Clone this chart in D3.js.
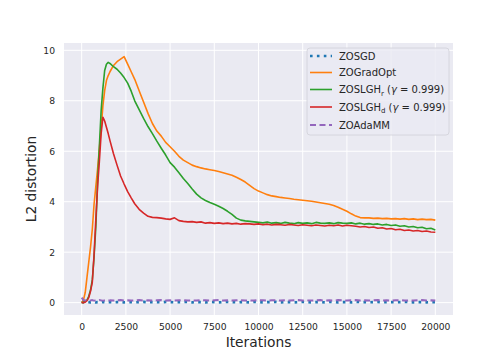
<!DOCTYPE html>
<html>
<head>
<meta charset="utf-8">
<script src="https://cdn.jsdelivr.net/npm/d3@7"></script>
<style>
  body { margin: 0; background: #fff; }
  text { font-family: "DejaVu Sans", sans-serif; fill: #262626; }
</style>
</head>
<body>
<div id="chart"></div>
<script>
// ------------ DATA ------------
var iterations = [0,100,200,300,400,500,600,700,800,900,1000,1100,1200,1300,1400,1500,1600,1800,2000,2200,2400,2600,2800,
  3000,3250,3500,3750,4000,4250,4500,4750,5000,5250,5500,5750,6000,6250,6500,6750,7000,7250,7500,7750,8000,8250,8500,8750,
  9000,9250,9500,9750,10000,10250,10500,10750,11000,11250,11500,11750,12000,12250,12500,12750,13000,13250,13500,13750,
  14000,14250,14500,14750,15000,15250,15500,15750,16000,16250,16500,16750,17000,17250,17500,17750,18000,18250,18500,18750,
  19000,19250,19500,19750,20000];

var zosgd = [0.05,0.02,0.01,0.03,0.02,0.01,0.02,0.03,0.01,0.02,0.02,0.01,0.03,0.02,0.01,0.02,0.02,0.01,0.02,0.03,0.01,0.02,0.02,
  0.01,0.02,0.03,0.01,0.02,0.02,0.01,0.03,0.02,0.01,0.02,0.02,0.03,0.01,0.02,0.02,0.01,0.03,0.02,0.01,0.02,0.03,0.02,0.01,
  0.02,0.02,0.01,0.03,0.02,0.01,0.02,0.02,0.03,0.01,0.02,0.02,0.01,0.02,0.03,0.02,0.01,0.02,0.02,0.01,
  0.03,0.02,0.01,0.02,0.02,0.01,0.03,0.02,0.02,0.01,0.02,0.03,0.01,0.02,0.02,0.01,0.02,0.03,0.02,0.01,
  0.02,0.02,0.01,0.02,0.02];

var zogradopt = [0.0,0.1,0.4,1.0,1.6,2.2,2.9,3.9,4.6,5.3,6.1,6.9,7.8,8.4,8.8,9.0,9.15,9.4,9.55,9.65,9.75,9.45,9.15,
  8.85,8.4,7.95,7.5,7.1,6.8,6.6,6.35,6.18,6.0,5.8,5.65,5.55,5.45,5.39,5.34,5.3,5.27,5.24,5.2,5.15,5.1,5.05,4.97,
  4.88,4.78,4.65,4.52,4.42,4.35,4.28,4.23,4.2,4.17,4.15,4.13,4.1,4.08,4.06,4.04,4.02,3.99,3.96,3.93,
  3.9,3.85,3.78,3.7,3.62,3.52,3.43,3.37,3.36,3.36,3.34,3.35,3.33,3.34,3.32,3.33,3.31,3.33,3.3,3.32,
  3.29,3.31,3.29,3.3,3.27];

var zoslghR = [0.0,0.0,0.05,0.1,0.25,0.5,0.9,1.8,3.0,4.8,6.2,7.6,8.5,9.2,9.45,9.52,9.48,9.35,9.25,9.1,8.92,8.7,8.38,
  8.0,7.65,7.3,6.98,6.7,6.4,6.12,5.85,5.55,5.37,5.15,4.92,4.72,4.5,4.3,4.15,4.05,3.97,3.9,3.82,3.73,3.62,3.5,3.35,
  3.27,3.24,3.22,3.2,3.18,3.16,3.19,3.15,3.17,3.14,3.18,3.15,3.13,3.17,3.14,3.16,3.13,3.18,3.15,3.14,
  3.16,3.13,3.17,3.15,3.14,3.16,3.12,3.15,3.11,3.13,3.1,3.12,3.08,3.1,3.06,3.08,3.03,3.05,3.0,3.02,
  2.97,2.99,2.93,2.95,2.88];

var zoslghD = [0.0,0.0,0.02,0.08,0.2,0.45,0.8,1.9,3.3,4.6,5.6,6.7,7.35,7.2,6.95,6.7,6.42,5.9,5.45,5.02,4.7,4.4,4.15,
  3.92,3.7,3.55,3.42,3.38,3.37,3.35,3.32,3.3,3.36,3.25,3.22,3.2,3.21,3.18,3.2,3.15,3.17,3.14,3.16,3.13,3.15,3.12,3.14,
  3.11,3.13,3.12,3.1,3.12,3.09,3.11,3.08,3.1,3.09,3.07,3.1,3.08,3.06,3.09,3.07,3.05,3.08,3.06,3.04,
  3.07,3.05,3.08,3.04,3.07,3.05,3.03,3.0,3.02,2.98,3.0,2.95,2.97,2.92,2.94,2.89,2.91,2.86,2.88,2.84,
  2.86,2.82,2.84,2.8,2.79];

var zoadamm = [0.2,0.1,0.09,0.1,0.08,0.09,0.1,0.08,0.09,0.08,0.1,0.09,0.08,0.09,0.1,0.08,0.09,0.08,0.09,0.1,0.08,0.09,0.08,
  0.09,0.1,0.08,0.09,0.08,0.09,0.1,0.08,0.09,0.08,0.09,0.1,0.08,0.09,0.08,0.1,0.09,0.08,0.09,0.1,0.08,0.09,0.08,0.09,
  0.1,0.08,0.09,0.08,0.1,0.09,0.08,0.09,0.1,0.08,0.09,0.08,0.09,0.1,0.08,0.09,0.08,0.09,0.1,0.08,
  0.09,0.08,0.1,0.09,0.08,0.09,0.1,0.08,0.09,0.08,0.09,0.1,0.08,0.09,0.08,0.09,0.1,0.08,0.09,0.08,
  0.09,0.1,0.08,0.09,0.08];

var xTicks = [0,2500,5000,7500,10000,12500,15000,17500,20000];
var yTicks = [0,2,4,6,8,10];

var series = [
  { name: "ZOSGD", values: zosgd, color: "#1f77b4", width: 2.6, dash: "2.6,4.3" },
  { name: "ZOGradOpt", values: zogradopt, color: "#ff7f0e", width: 1.6, dash: null },
  { name: "ZOSLGH", sub: "r", values: zoslghR, color: "#2ca02c", width: 1.6, dash: null },
  { name: "ZOSLGH", sub: "d", values: zoslghD, color: "#d62728", width: 1.6, dash: null },
  { name: "ZOAdaMM", values: zoadamm, color: "#9467bd", width: 2, dash: "6,3.5" }
];

// ------------ CHART FORMATTING ------------
var svgWidth = 504;
var svgHeight = 360;
var margin = { top: 43, right: 51, bottom: 45, left: 64 };
var chartWidth = svgWidth - margin.left - margin.right;
var chartHeight = svgHeight - margin.top - margin.bottom;

var svg = d3.select("#chart")
  .append("svg")
  .attr("width", svgWidth)
  .attr("height", svgHeight);

var chartGroup = svg.append("g")
  .attr("transform", `translate(${margin.left}, ${margin.top})`);

// background
chartGroup.append("rect")
  .attr("width", chartWidth)
  .attr("height", chartHeight)
  .attr("fill", "#eaeaf2");

// ------------ AXES ------------
var x = d3.scaleLinear().domain([-1000, 21000]).range([0, chartWidth]);
var y = d3.scaleLinear().domain([-0.49, 10.29]).range([chartHeight, 0]);

// grid
chartGroup.append("g")
  .selectAll("line")
  .data(xTicks)
  .enter()
  .append("line")
    .attr("x1", d => x(d)).attr("x2", d => x(d))
    .attr("y1", 0).attr("y2", chartHeight)
    .attr("stroke", "#fff").attr("stroke-width", 1);
chartGroup.append("g")
  .selectAll("line")
  .data(yTicks)
  .enter()
  .append("line")
    .attr("y1", d => y(d)).attr("y2", d => y(d))
    .attr("x1", 0).attr("x2", chartWidth)
    .attr("stroke", "#fff").attr("stroke-width", 1);

var bottomAxis = d3.axisBottom(x).tickValues(xTicks).tickFormat(d3.format("d")).tickSize(0).tickPadding(8);
var leftAxis = d3.axisLeft(y).tickValues(yTicks).tickFormat(d3.format("d")).tickSize(0).tickPadding(9);

var xAxisG = chartGroup.append("g")
  .attr("transform", "translate(0, " + chartHeight + ")")
  .call(bottomAxis);
var yAxisG = chartGroup.append("g").call(leftAxis);
[xAxisG, yAxisG].forEach(function(g) {
  g.select(".domain").remove();
  g.selectAll("text")
    .attr("font-size", "9.2px")
    .attr("font-family", "DejaVu Sans")
    .attr("fill", "#262626");
});

// ------------ LINES ------------
var line = d3.line()
  .x((d, i) => x(iterations[i]))
  .y(d => y(d));

series.forEach(function(s) {
  chartGroup.append("path")
    .datum(s.values)
    .attr("fill", "none")
    .attr("stroke", s.color)
    .attr("stroke-width", s.width)
    .attr("stroke-dasharray", s.dash)
    .attr("stroke-linejoin", "round")
    .attr("d", line);
});

// ------------ LABELS ------------
svg.append("text")
  .attr("x", margin.left + chartWidth / 2)
  .attr("y", 347)
  .attr("text-anchor", "middle")
  .attr("font-size", "13.8px")
  .text("Iterations");
svg.append("text")
  .attr("transform", "translate(36, " + (margin.top + chartHeight / 2) + ") rotate(-90)")
  .attr("text-anchor", "middle")
  .attr("font-size", "13.8px")
  .text("L2 distortion");

// ------------ LEGEND ------------
var legend = svg.append("g").attr("transform", "translate(307, 48)");
legend.append("rect")
  .attr("width", 142)
  .attr("height", 87)
  .attr("rx", 3)
  .attr("fill", "#eaeaf2")
  .attr("fill-opacity", 0.8)
  .attr("stroke", "#d0d0d8")
  .attr("stroke-width", 0.8);

var rowY = [8, 24.5, 41.5, 59, 77];
series.forEach(function(s, i) {
  var row = legend.append("g").attr("transform", "translate(0," + rowY[i] + ")");
  row.append("line")
    .attr("x1", 3).attr("x2", 25)
    .attr("stroke", s.color)
    .attr("stroke-width", s.width)
    .attr("stroke-dasharray", s.dash);
  var t = row.append("text")
    .attr("x", 32)
    .attr("y", 3.5)
    .attr("font-size", "10px");
  t.append("tspan").text(s.name);
  if (s.sub) {
    t.append("tspan").attr("dy", 2.5).attr("font-size", "7px").text(s.sub);
    t.append("tspan").attr("dy", -2.5).text(" (");
    t.append("tspan").attr("font-style", "italic").text("γ");
    t.append("tspan").text(" = 0.999)");
  }
});
</script>
</body>
</html>
